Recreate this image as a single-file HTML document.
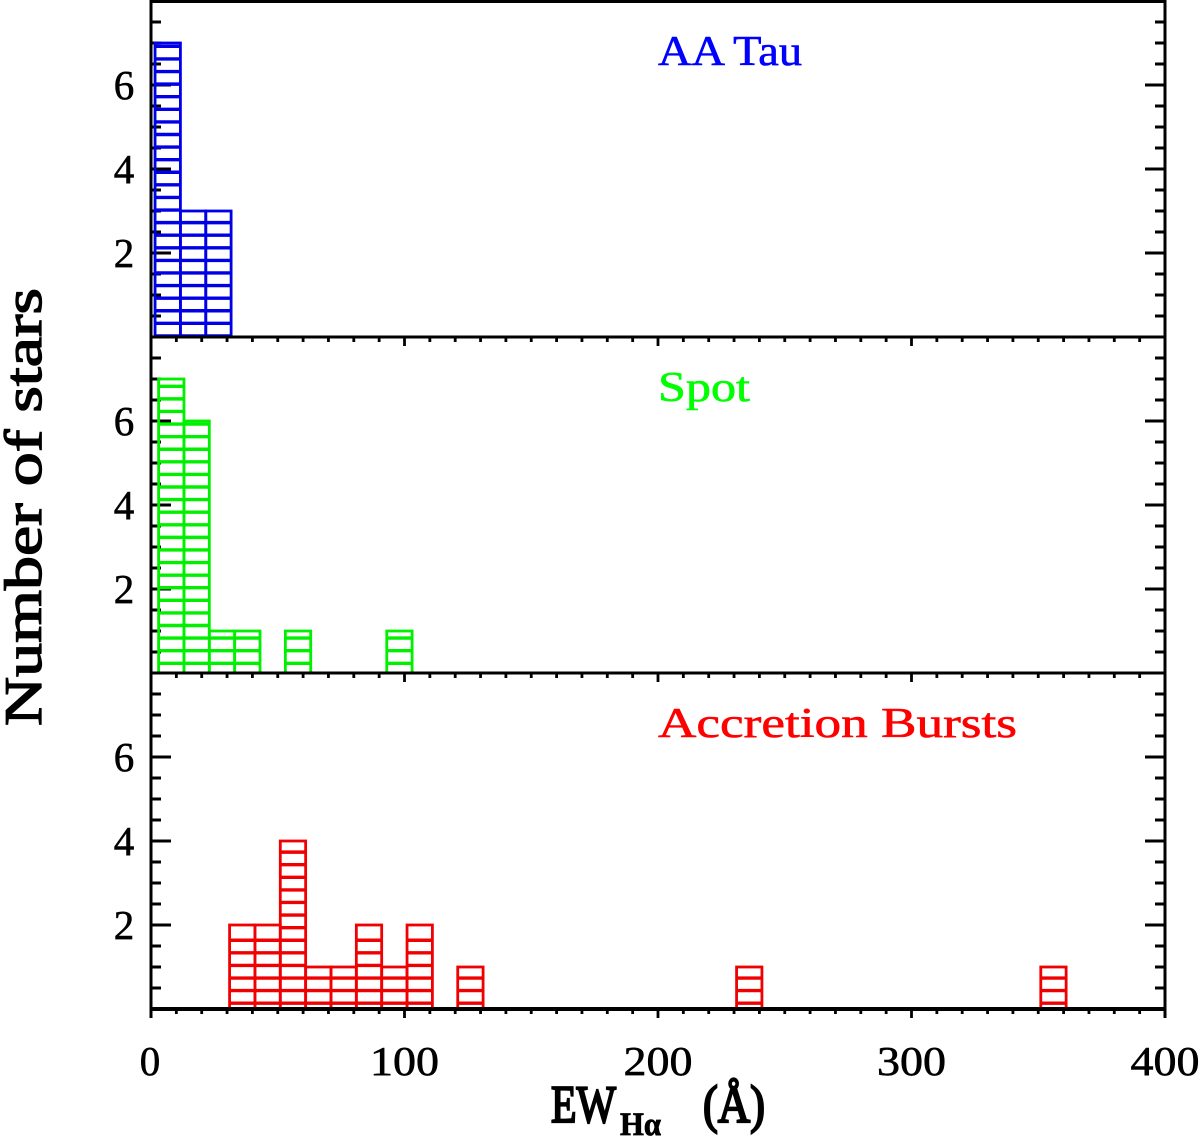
<!DOCTYPE html>
<html>
<head>
<meta charset="utf-8">
<title>EW H-alpha histograms</title>
<style>
html,body{margin:0;padding:0;background:#fff;}
svg{display:block;}
text{font-family:"Liberation Serif",serif;}
</style>
</head>
<body>
<svg id="chart" xmlns="http://www.w3.org/2000/svg" width="1200" height="1139" viewBox="0 0 1200 1139">
  <text transform="translate(41,726) rotate(-90)" font-size="53" fill="#000" stroke="#000" stroke-width="1.3" textLength="438" lengthAdjust="spacingAndGlyphs">Number of stars</text>
  <g fill="#000" stroke="#000">
    <text x="551" y="1122" font-size="53" stroke-width="2.2" textLength="65" lengthAdjust="spacingAndGlyphs">EW</text>
    <text x="620" y="1135" font-size="33" font-weight="bold" stroke-width="0.8" textLength="41" lengthAdjust="spacingAndGlyphs">Hα</text>
    <text x="703" y="1122" font-size="53" stroke-width="2.2" textLength="62" lengthAdjust="spacingAndGlyphs">(Å)</text>
  </g>
</svg>
<script>
const xTickLabels = [0, 100, 200, 300, 400];
const yTickLabels = [2, 4, 6];

const aaTauBinStarts = [1.6, 11.6, 21.6];
const aaTauCounts = [7, 3, 3];

const spotBinStarts = [3, 13, 23, 33, 53, 93];
const spotCounts = [7, 6, 1, 1, 1, 1];

const burstBinStarts = [31, 41, 51, 61, 71, 81, 91, 101, 121, 231, 351];
const burstCounts = [2, 2, 4, 1, 1, 2, 1, 2, 1, 1, 1];

const svgNS = 'http://www.w3.org/2000/svg';
const svg = document.getElementById('chart');
const binWidth = 10;
const xMin = 0, xMax = 400, yMax = 8;
const plotLeft = 151, plotRight = 1165;
const panelHeight = 336;

function xPos(v) { return plotLeft + (v - xMin) / (xMax - xMin) * (plotRight - plotLeft); }
function yPos(v, bottom) { return bottom - v / yMax * panelHeight; }

function line(parent, x1, y1, x2, y2, color, width) {
  const el = document.createElementNS(svgNS, 'line');
  el.setAttribute('x1', x1);
  el.setAttribute('y1', y1);
  el.setAttribute('x2', x2);
  el.setAttribute('y2', y2);
  el.setAttribute('stroke', color);
  el.setAttribute('stroke-width', width);
  parent.appendChild(el);
  return el;
}

function label(parent, str, x, y, size, anchor, color, fitWidth) {
  const el = document.createElementNS(svgNS, 'text');
  el.setAttribute('x', x);
  el.setAttribute('y', y);
  el.setAttribute('font-size', size);
  el.setAttribute('text-anchor', anchor);
  el.setAttribute('fill', color);
  el.setAttribute('stroke', color);
  el.setAttribute('stroke-width', 0.6);
  if (fitWidth) {
    el.setAttribute('textLength', fitWidth);
    el.setAttribute('lengthAdjust', 'spacingAndGlyphs');
  }
  el.textContent = str;
  parent.appendChild(el);
  return el;
}

function drawBars(parent, starts, counts, bottom, color) {
  const hatchBase = 1003.2, hatchStep = 12.59;
  starts.forEach(function (s, i) {
    const bar = document.createElementNS(svgNS, 'g');
    
    
    const x1 = xPos(s), x2 = xPos(s + binWidth);
    const top = yPos(counts[i], bottom);
    const rect = document.createElementNS(svgNS, 'rect');
    
    
    rect.setAttribute('x', x1);
    rect.setAttribute('y', top);
    rect.setAttribute('width', x2 - x1);
    rect.setAttribute('height', bottom - top);
    rect.setAttribute('fill', 'none');
    rect.setAttribute('stroke', color);
    rect.setAttribute('stroke-width', 2.8);
    bar.appendChild(rect);
    for (let k = 0; k < 90; k++) {
      const y = hatchBase - k * hatchStep;
      if (y > top + 3 && y < bottom - 1) {
        const h = line(bar, x1, y, x2, y, color, 3.4);
        
        
      }
    }
    parent.appendChild(bar);
  });
}

function drawPanelTicks(parent, bottom) {
  for (let v = 0; v <= yMax; v += 0.5) {
    const y = yPos(v, bottom);
    const isMajor = v % 2 === 0;
    const len = isMajor ? 20 : 10;
    if (v > 0 && v < yMax) {
      const a = line(parent, plotLeft, y, plotLeft + len, y, '#000', 3);
      
      
      const b = line(parent, plotRight - len, y, plotRight, y, '#000', 3);
      
      
    }
  }
  for (let v = xMin; v <= xMax; v += 10) {
    const major = v % 100 === 0;
    const t = line(parent, xPos(v), bottom, xPos(v), bottom + (major ? 9 : 5), '#000', 2.8);
    
    
  }
  yTickLabels.forEach(function (v) {
    const t = label(parent, v, 124, yPos(v, bottom) + 14, 41, 'middle', '#000');
    
    
  });
}

const panels = [
  { name: 'aa-tau-panel', bottom: 337, starts: aaTauBinStarts, counts: aaTauCounts, color: '#0000e6', title: 'AA Tau', titleColor: '#0000ff', titleWidth: 144, axis: 3 },
  { name: 'spot-panel', bottom: 673, starts: spotBinStarts, counts: spotCounts, color: '#00f000', title: 'Spot', titleColor: '#00ff00', titleWidth: 92, axis: 3 },
  { name: 'accretion-bursts-panel', bottom: 1009, starts: burstBinStarts, counts: burstCounts, color: '#f00000', title: 'Accretion Bursts', titleColor: '#ff0000', titleWidth: 359, axis: 4 }
];

panels.forEach(function (p) {
  const g = document.createElementNS(svgNS, 'g');
  
  
  svg.appendChild(g);
  drawPanelTicks(g, p.bottom);
  drawBars(g, p.starts, p.counts, p.bottom, p.color);
  const base = line(g, plotLeft - 1, p.bottom, plotRight + 1, p.bottom, '#000', p.axis);
  
  
  const t = label(g, p.title, 658, p.bottom - panelHeight + 64, 42, 'start', p.titleColor, p.titleWidth);
  
  
});

const topSpine = line(svg, plotLeft - 1, 1.5, plotRight + 1, 1.5, '#000', 3);



const leftSpine = line(svg, plotLeft, 0, plotLeft, 1018, '#000', 3);



const rightSpine = line(svg, plotRight, 0, plotRight, 1018, '#000', 3);



xTickLabels.forEach(function (v) {
  const wide = String(v).length > 1;
  const t = label(svg, v, xPos(v) - (wide ? 0 : 1), 1075, 41, 'middle', '#000', wide ? 69 : 0);
  
  
});
</script>
</body>
</html>
